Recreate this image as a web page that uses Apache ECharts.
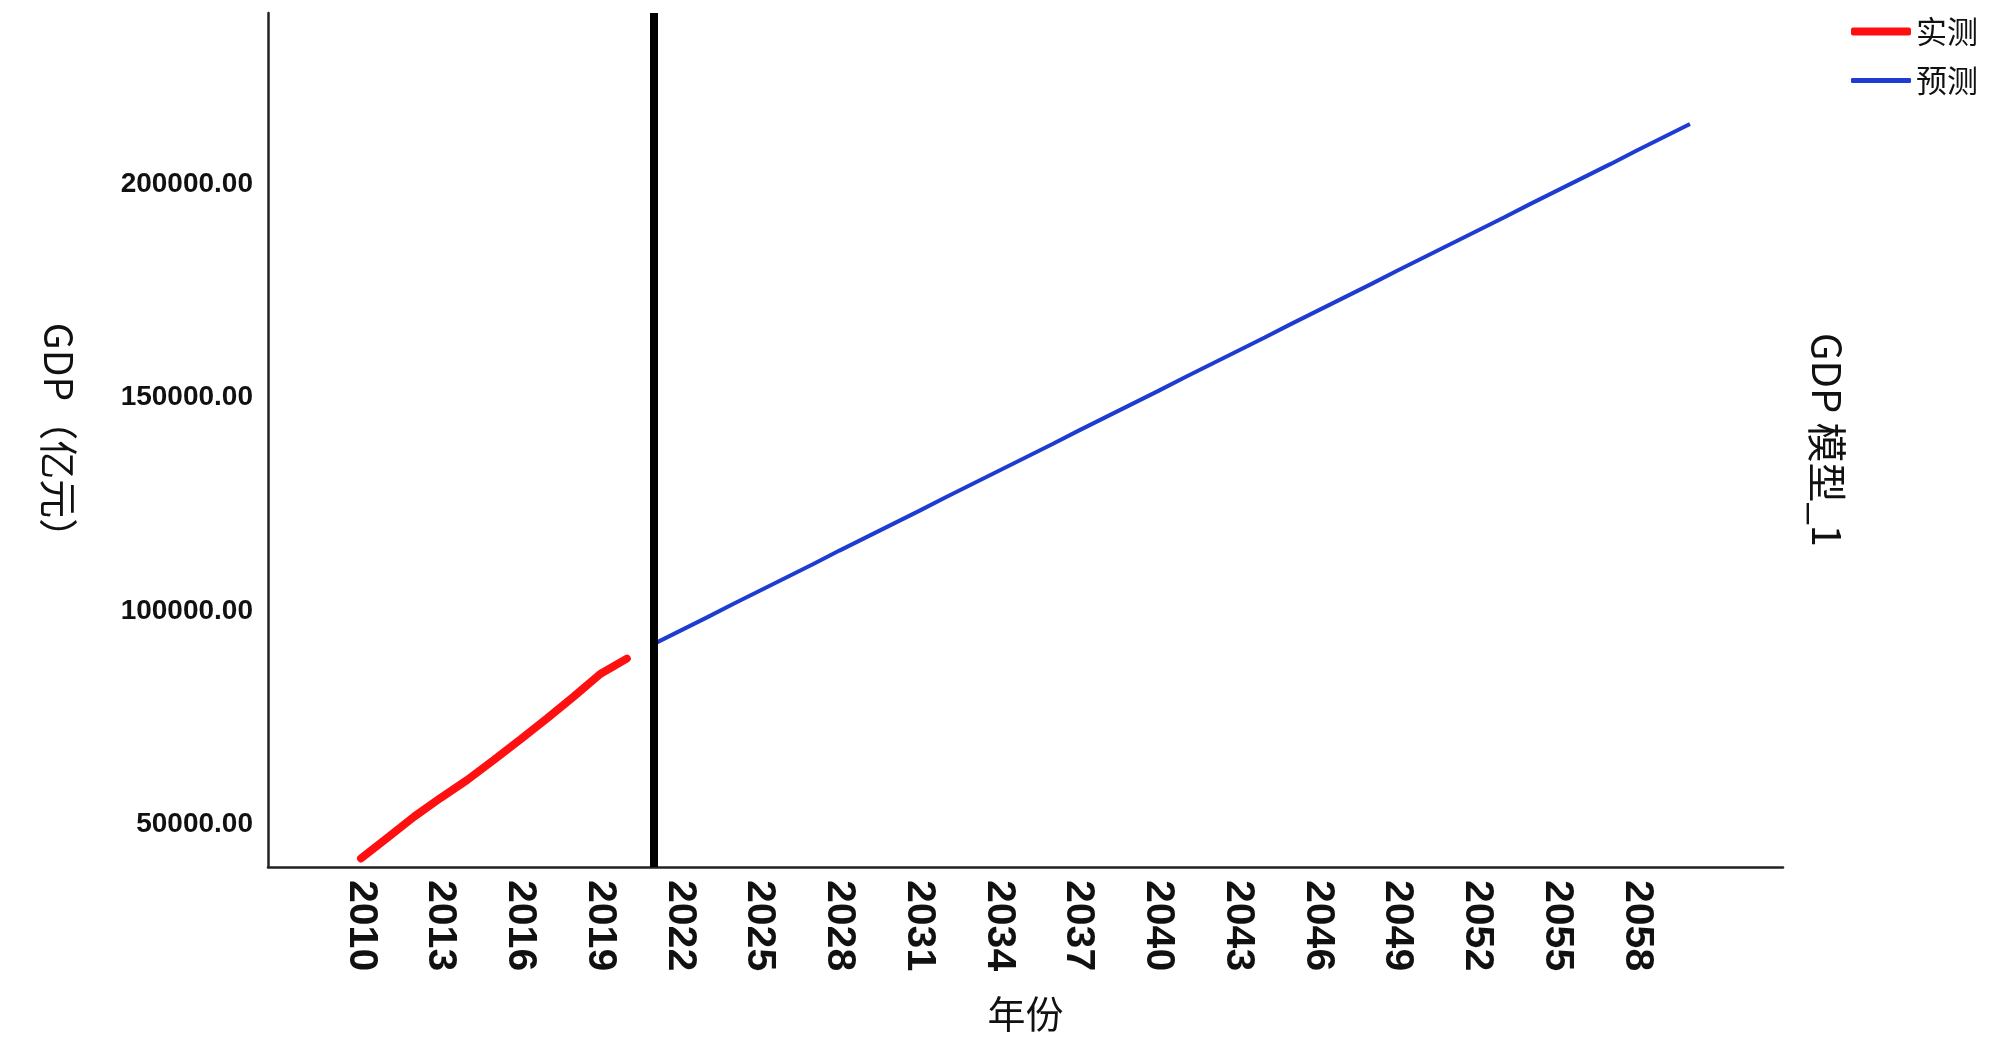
<!DOCTYPE html>
<html>
<head>
<meta charset="utf-8">
<script src="https://cdn.jsdelivr.net/npm/echarts@6/dist/echarts.min.js"></script>
<style>
  html, body { margin: 0; padding: 0; background: #fff; }
  #main { width: 2000px; height: 1045px; }
</style>
</head>
<body>
<div id="main"></div>
<script>
// 横轴年份（类目轴，两端留白）
var years = [];
for (var y = 2007; y <= 2063; y++) years.push(String(y));

// 实测 GDP（亿元）
var actualYears = ['2010','2011','2012','2013','2014','2015','2016','2017','2018','2019','2020'];
var actualValues = [42000, 46900, 51800, 56200, 60400, 65100, 69900, 74800, 79900, 85200, 88800];

// 预测 GDP（亿元）
var forecastYears = ['2021','2022','2023','2024','2025','2026','2027','2028','2029','2030',
  '2031','2032','2033','2034','2035','2036','2037','2038','2039','2040',
  '2041','2042','2043','2044','2045','2046','2047','2048','2049','2050',
  '2051','2052','2053','2054','2055','2056','2057','2058','2059','2060'];
var forecastValues = [92200, 95300, 98400, 101600, 104700, 107800, 110900, 114100, 117200, 120300,
  123400, 126600, 129700, 132800, 135900, 139000, 142200, 145300, 148400, 151500,
  154700, 157800, 160900, 164000, 167200, 170300, 173400, 176500, 179700, 182800,
  185900, 189000, 192100, 195300, 198400, 201500, 204600, 207800, 210900, 214000];

var splitYear = '2021';

var RED = '#ff1010';
var BLUE = '#1e3cd2';

function pairs(xs, vs) {
  var out = [];
  for (var i = 0; i < xs.length; i++) out.push([xs[i], vs[i]]);
  return out;
}

var legendText = { fontFamily: 'Noto Sans CJK SC', fontSize: 31, color: '#111' };

var chart = echarts.init(document.getElementById('main'));
chart.setOption({
  animation: false,
  backgroundColor: '#fff',
  grid: { left: 268, right: 217, top: 13, bottom: 178 },
  // 两个图例分开放，线宽不同
  legend: [{
    data: ['实测'],
    right: 17, top: 11,
    icon: 'roundRect',
    itemWidth: 60, itemHeight: 8, itemGap: 10,
    textStyle: legendText
  }, {
    data: ['预测'],
    right: 17, top: 60,
    icon: 'roundRect',
    itemWidth: 60, itemHeight: 5, itemGap: 10,
    textStyle: legendText
  }],
  xAxis: {
    type: 'category',
    data: years,
    boundaryGap: true,
    name: '年份',
    nameLocation: 'middle',
    nameGap: 128,
    nameTextStyle: { fontFamily: 'Noto Sans CJK SC', fontSize: 38, color: '#111' },
    axisLine: { lineStyle: { color: '#222', width: 2.5 } },
    axisTick: { show: false },
    axisLabel: {
      rotate: -90,
      margin: 13,
      fontFamily: 'Liberation Sans',
      fontWeight: 'bold',
      fontSize: 41,
      color: '#111',
      interval: function (idx, val) {
        var v = parseInt(val, 10);
        return v >= 2010 && v <= 2058 && (v - 2010) % 3 === 0;
      }
    },
    splitLine: { show: false }
  },
  yAxis: [{
    type: 'value',
    min: 40000,
    max: 240000,
    interval: 10000,
    name: 'GDP（亿元）',
    nameLocation: 'middle',
    nameRotate: -90,
    nameGap: 190,
    nameTextStyle: { fontFamily: 'Noto Sans CJK SC', fontSize: 39, color: '#111' },
    axisLine: { show: true, lineStyle: { color: '#222', width: 2.5 } },
    axisTick: { show: false },
    splitLine: { show: false },
    axisLabel: {
      margin: 15,
      fontFamily: 'Liberation Sans',
      fontWeight: 'bold',
      fontSize: 28,
      color: '#111',
      formatter: function (v) {
        return v % 50000 === 0 ? v.toFixed(2) : '';
      }
    }
  }, {
    type: 'value',
    position: 'right',
    min: 40000,
    max: 240000,
    name: 'GDP 模型_1',
    nameLocation: 'middle',
    nameRotate: -90,
    nameGap: 24,
    nameTextStyle: { fontFamily: 'Noto Sans CJK SC', fontSize: 40, color: '#111' },
    axisLine: { show: false },
    axisTick: { show: false },
    axisLabel: { show: false },
    splitLine: { show: false }
  }],
  series: [{
    name: '实测',
    type: 'line',
    data: pairs(actualYears, actualValues),
    symbol: 'none',
    color: RED,
    lineStyle: { color: RED, width: 8, cap: 'round' },
    z: 3
  }, {
    name: '预测',
    type: 'line',
    data: pairs(forecastYears, forecastValues),
    symbol: 'none',
    color: BLUE,
    lineStyle: { color: BLUE, width: 4 },
    z: 3,
    markLine: {
      silent: true,
      symbol: ['none', 'none'],
      label: { show: false },
      lineStyle: { color: '#000', width: 8, type: 'solid' },
      data: [{ xAxis: splitYear }]
    }
  }]
});
</script>
</body>
</html>
